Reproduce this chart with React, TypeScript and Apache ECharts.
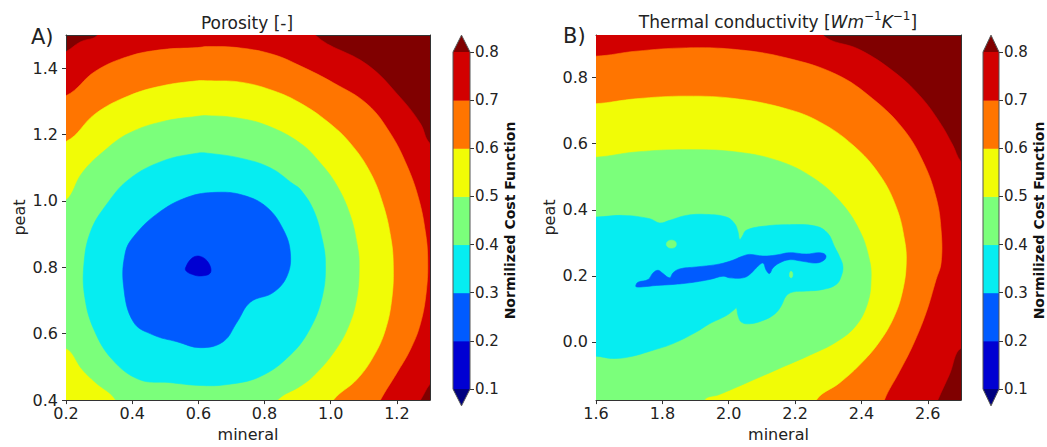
import React, { useEffect, useRef } from 'react';
import * as echarts from 'echarts';

const FONT = 'DejaVu Sans';

// Colour levels of the filled contours (matplotlib "jet", 7 bands + extensions)
const levels = [0.1, 0.2, 0.3, 0.4, 0.5, 0.6, 0.7, 0.8];
const bandColors = ['#0000d2', '#005bff', '#06edf1', '#7bff7b', '#f1fc06', '#ff7500', '#d20000'];
const underColor = '#000080';
const overColor = '#800000';
const colorbarTicks = [0.1, 0.2, 0.3, 0.4, 0.5, 0.6, 0.7, 0.8];

// Panel A axes
const porosityXRange = [0.2, 1.3];
const porosityYRange = [0.4, 1.5];
const porosityXTicks = [0.2, 0.4, 0.6, 0.8, 1.0, 1.2];
const porosityYTicks = [0.4, 0.6, 0.8, 1.0, 1.2, 1.4];

// Panel B axes
const thermalXRange = [1.6, 2.7];
const thermalYRange = [-0.176, 0.929];
const thermalXTicks = [1.6, 1.8, 2.0, 2.2, 2.4, 2.6];
const thermalYTicks = [0.0, 0.2, 0.4, 0.6, 0.8];

// ---- Panel A contour regions (value below level), [mineral, peat] ----
const porosityBelow08 = [[0.30,1.56],[0.295,1.5],[0.243,1.479],[0.2,1.45],[0.15,1.43],[0.1,1.2],[0.1,0.3],[1.2,0.3],[1.271,0.4],[1.299,0.447],[1.35,0.5],[1.4,0.8],[1.35,1.15],[1.299,1.174],[1.271,1.233],[1.21,1.312],[1.11,1.411],[0.953,1.5],[0.95,1.56]];
const porosityBelow07 = [[0.1,1.3],[0.2,1.317],[0.289,1.391],[0.39,1.436],[0.491,1.456],[0.597,1.462],[0.627,1.465],[0.727,1.461],[0.827,1.441],[0.908,1.407],[1.008,1.356],[1.11,1.292],[1.18,1.204],[1.231,1.105],[1.266,1.006],[1.286,0.907],[1.293,0.828],[1.289,0.729],[1.271,0.63],[1.24,0.551],[1.2,0.482],[1.15,0.4],[1.1,0.3],[0.1,0.3]];
const porosityBelow06 = [[0.1,1.17],[0.2,1.179],[0.289,1.263],[0.39,1.317],[0.491,1.347],[0.597,1.362],[0.627,1.362],[0.727,1.358],[0.827,1.332],[0.908,1.295],[0.989,1.24],[1.059,1.174],[1.12,1.085],[1.159,0.987],[1.182,0.887],[1.189,0.809],[1.185,0.709],[1.165,0.611],[1.129,0.531],[1.079,0.462],[1.008,0.4],[0.95,0.3],[0.1,0.3]];
const porosityBelow05 = [[0.15,1.0],[0.2,1.002],[0.249,1.085],[0.319,1.154],[0.39,1.204],[0.491,1.239],[0.597,1.255],[0.627,1.257],[0.718,1.25],[0.808,1.227],[0.908,1.174],[0.968,1.115],[1.019,1.046],[1.059,0.957],[1.08,0.868],[1.086,0.809],[1.079,0.709],[1.053,0.62],[1.008,0.542],[0.947,0.472],[0.908,0.442],[0.839,0.4],[0.82,0.35],[0.35,0.35],[0.35,0.4],[0.289,0.453],[0.249,0.492],[0.2,0.556],[0.15,0.54]];
const porosityBelow04 = [[0.274,0.907],[0.254,0.808],[0.257,0.709],[0.285,0.611],[0.34,0.522],[0.421,0.462],[0.511,0.453],[0.606,0.444],[0.688,0.447],[0.787,0.471],[0.878,0.536],[0.938,0.616],[0.975,0.714],[0.984,0.812],[0.974,0.886],[0.947,0.975],[0.908,1.035],[0.888,1.05],[0.817,1.1],[0.727,1.129],[0.627,1.144],[0.597,1.144],[0.491,1.12],[0.39,1.065],[0.32,0.986]];
const porosityBelow03 = [[0.655,1.026],[0.736,1.017],[0.807,0.981],[0.857,0.913],[0.878,0.843],[0.868,0.774],[0.826,0.724],[0.757,0.695],[0.717,0.635],[0.675,0.576],[0.606,0.558],[0.535,0.576],[0.464,0.596],[0.404,0.635],[0.374,0.744],[0.379,0.843],[0.404,0.892],[0.475,0.961],[0.566,1.011]];
const porosityBelow02 = [[0.561,0.798],[0.581,0.828],[0.606,0.833],[0.631,0.813],[0.636,0.783],[0.606,0.774],[0.581,0.779],[0.564,0.788]];

// ---- Panel B contour regions ----
const thermalBelow08 = [[1.5,1.0],[2.28,1.0],[2.284,0.929],[2.394,0.885],[2.495,0.82],[2.575,0.746],[2.635,0.666],[2.675,0.596],[2.699,0.547],[2.75,0.5],[2.75,-0.05],[2.699,-0.02],[2.665,-0.099],[2.63,-0.176],[2.6,-0.25],[1.5,-0.25]];
const thermalBelow07 = [[1.5,0.87],[1.6,0.865],[1.721,0.88],[1.872,0.89],[2.023,0.885],[2.173,0.86],[2.324,0.81],[2.434,0.736],[2.525,0.646],[2.585,0.547],[2.625,0.437],[2.64,0.338],[2.64,0.239],[2.625,0.189],[2.595,0.089],[2.555,-0.01],[2.515,-0.089],[2.469,-0.176],[2.45,-0.25],[1.5,-0.25]];
const thermalBelow06 = [[1.5,0.72],[1.6,0.721],[1.721,0.736],[1.872,0.744],[2.023,0.736],[2.173,0.706],[2.274,0.666],[2.374,0.596],[2.454,0.507],[2.505,0.408],[2.53,0.308],[2.535,0.239],[2.525,0.159],[2.5,0.08],[2.454,0.0],[2.394,-0.07],[2.334,-0.124],[2.264,-0.176],[2.25,-0.25],[1.5,-0.25]];
const thermalBelow05 = [[1.5,0.56],[1.6,0.559],[1.721,0.575],[1.872,0.582],[2.023,0.575],[2.153,0.547],[2.254,0.497],[2.334,0.427],[2.394,0.338],[2.424,0.249],[2.429,0.189],[2.419,0.119],[2.384,0.05],[2.324,0.0],[2.244,-0.04],[2.153,-0.08],[2.053,-0.124],[1.972,-0.159],[1.927,-0.176],[1.92,-0.25],[1.5,-0.25]];
const thermalBelow04 = [[1.5,0.38],[1.6,0.378],[1.681,0.383],[1.762,0.373],[1.792,0.36],[1.822,0.368],[1.872,0.383],[1.932,0.386],[1.993,0.378],[2.018,0.358],[2.028,0.333],[2.033,0.31],[2.041,0.32],[2.053,0.338],[2.103,0.35],[2.183,0.355],[2.264,0.35],[2.299,0.328],[2.319,0.288],[2.334,0.258],[2.344,0.229],[2.339,0.199],[2.324,0.174],[2.284,0.159],[2.234,0.154],[2.193,0.151],[2.173,0.139],[2.158,0.109],[2.138,0.084],[2.103,0.065],[2.063,0.055],[2.038,0.06],[2.028,0.08],[2.023,0.104],[2.018,0.099],[1.993,0.08],[1.942,0.055],[1.902,0.03],[1.832,-0.005],[1.772,-0.025],[1.701,-0.045],[1.651,-0.05],[1.6,-0.043],[1.5,-0.04]];
const thermalIsland1 = [[1.812,0.296],[1.817,0.305],[1.827,0.308],[1.838,0.305],[1.842,0.296],[1.838,0.287],[1.827,0.284],[1.817,0.287]];
const thermalIsland2 = [[2.183,0.204],[2.185,0.212],[2.188,0.214],[2.192,0.21],[2.193,0.202],[2.191,0.196],[2.188,0.194],[2.184,0.197]];
const thermalBelow03 = [[1.721,0.174],[1.727,0.181],[1.757,0.189],[1.772,0.209],[1.787,0.217],[1.802,0.207],[1.822,0.194],[1.832,0.209],[1.852,0.221],[1.902,0.227],[1.962,0.234],[2.003,0.244],[2.043,0.26],[2.063,0.265],[2.103,0.26],[2.143,0.263],[2.183,0.27],[2.234,0.266],[2.274,0.27],[2.292,0.263],[2.289,0.249],[2.264,0.239],[2.223,0.244],[2.183,0.249],[2.153,0.239],[2.133,0.224],[2.123,0.207],[2.113,0.217],[2.103,0.239],[2.083,0.224],[2.063,0.204],[2.043,0.194],[2.003,0.194],[1.983,0.199],[1.942,0.189],[1.882,0.179],[1.832,0.174],[1.782,0.171],[1.742,0.167],[1.721,0.167]];

// band index = colour of region (0: 0.1-0.2 ... 6: 0.7-0.8)
const porosityLayers = [
  { band: 6, pts: porosityBelow08 },
  { band: 5, pts: porosityBelow07 },
  { band: 4, pts: porosityBelow06 },
  { band: 3, pts: porosityBelow05 },
  { band: 2, pts: porosityBelow04 },
  { band: 1, pts: porosityBelow03 },
  { band: 0, pts: porosityBelow02 },
];
const thermalLayers = [
  { band: 6, pts: thermalBelow08 },
  { band: 5, pts: thermalBelow07 },
  { band: 4, pts: thermalBelow06 },
  { band: 3, pts: thermalBelow05 },
  { band: 2, pts: thermalBelow04 },
  { band: 3, pts: thermalIsland1 },
  { band: 3, pts: thermalIsland2 },
  { band: 1, pts: thermalBelow03 },
];

const EXTEND_FRAC = 0.05;
const SMOOTH = 0.4;
const TXT = '#222';
const AXC = '#333';

function layerRender(layers: any[]) {
  return (params: any, api: any) => {
    const layer = layers[params.dataIndex];
    const points = layer.pts.map((p: number[]) => api.coord(p));
    const c = bandColors[layer.band];
    return { type: 'polygon', shape: { points, smooth: SMOOTH }, style: { fill: c, stroke: c, lineWidth: 0.6 } };
  };
}

const cbItems = ['b0', 'b1', 'b2', 'b3', 'b4', 'b5', 'b6', 'under', 'over', 'outline'];
function colorbarRender(params: any, api: any) {
  const key = cbItems[params.dataIndex];
  const lo = levels[0];
  const hi = levels[levels.length - 1];
  const ext = EXTEND_FRAC * (hi - lo);
  if (key[0] === 'b') {
    const i = Number(key.slice(1));
    const p0 = api.coord([0, levels[i]]);
    const p1 = api.coord([1, levels[i + 1]]);
    return {
      type: 'rect',
      shape: { x: p0[0], y: p1[1], width: p1[0] - p0[0], height: p0[1] - p1[1] + 0.5 },
      style: { fill: bandColors[i] },
    };
  }
  if (key === 'under') {
    const pts = [api.coord([0, lo]), api.coord([1, lo]), api.coord([0.5, lo - ext])];
    return { type: 'polygon', shape: { points: pts }, style: { fill: underColor } };
  }
  if (key === 'over') {
    const pts = [api.coord([0, hi]), api.coord([1, hi]), api.coord([0.5, hi + ext])];
    return { type: 'polygon', shape: { points: pts }, style: { fill: overColor } };
  }
  const pts = [
    api.coord([0, lo]), api.coord([0.5, lo - ext]), api.coord([1, lo]),
    api.coord([1, hi]), api.coord([0.5, hi + ext]), api.coord([0, hi]),
  ];
  return { type: 'polygon', shape: { points: pts }, style: { fill: 'none', stroke: '#555', lineWidth: 1 } };
}

const fmt1 = (v: number) => Number(v).toFixed(1);
const labelStyle = { fontFamily: FONT, fontSize: 16, color: TXT };

function mainXAxis(grid: number, range: number[], ticks: number[]) {
  return {
    gridIndex: grid, type: 'value', min: range[0], max: range[1], position: 'bottom',
    axisLine: { show: true, onZero: false, lineStyle: { color: AXC, width: 1 } },
    axisTick: { show: true, inside: false, length: 4, customValues: ticks, lineStyle: { color: AXC } },
    axisLabel: { show: true, customValues: ticks, formatter: fmt1, margin: 5, ...labelStyle },
    splitLine: { show: false },
    name: 'mineral', nameLocation: 'middle', nameGap: 25, nameTextStyle: { ...labelStyle },
  };
}
function mainYAxis(grid: number, range: number[], ticks: number[]) {
  return {
    gridIndex: grid, type: 'value', min: range[0], max: range[1], position: 'left',
    axisLine: { show: true, onZero: false, lineStyle: { color: AXC, width: 1 } },
    axisTick: { show: true, inside: false, length: 4, customValues: ticks, lineStyle: { color: AXC } },
    axisLabel: { show: true, customValues: ticks, formatter: fmt1, margin: 8, ...labelStyle },
    splitLine: { show: false },
    name: 'peat', nameLocation: 'middle', nameGap: 39, nameRotate: 90, nameTextStyle: { ...labelStyle },
  };
}
function frameAxis(grid: number, range: number[], position: string) {
  return {
    gridIndex: grid, type: 'value', min: range[0], max: range[1], position,
    axisLine: { show: true, onZero: false, lineStyle: { color: AXC, width: 1 } },
    axisTick: { show: false }, axisLabel: { show: false }, splitLine: { show: false },
  };
}
function cbXAxis(grid: number) {
  return { gridIndex: grid, type: 'value', min: 0, max: 1, show: false };
}
function cbYAxis(grid: number) {
  return {
    gridIndex: grid, type: 'value', min: levels[0], max: levels[levels.length - 1], position: 'right',
    axisLine: { show: false, onZero: false },
    axisTick: { show: true, inside: false, length: 4, customValues: colorbarTicks, lineStyle: { color: AXC } },
    axisLabel: { show: true, customValues: colorbarTicks, formatter: fmt1, margin: 5, fontFamily: FONT, fontSize: 15, color: TXT },
    splitLine: { show: false },
    name: 'Normilized Cost Function', nameLocation: 'middle', nameGap: 33, nameRotate: 90,
    nameTextStyle: { fontFamily: FONT, fontSize: 14, fontWeight: 'bold', color: '#111' },
  };
}

function textEl(x: number, y: number, text: string, size: number, extra: any = {}) {
  return {
    type: 'text', x, y,
    style: {
      text, fontFamily: FONT, fontSize: size, fill: TXT,
      align: extra.align || 'center', textAlign: extra.align || 'center',
      verticalAlign: 'middle', textVerticalAlign: 'middle', ...extra.style,
    },
  };
}

export default function App() {
  const ref = useRef<HTMLDivElement>(null);
  useEffect(() => {
    if (!ref.current) return;
    const chart = echarts.init(ref.current, undefined, { renderer: 'svg' });
    const option: any = {
      animation: false,
      backgroundColor: '#ffffff',
      textStyle: { fontFamily: FONT },
      grid: [
        { left: 66, top: 35, width: 364, height: 371, show: true, backgroundColor: overColor, borderWidth: 0 },
        { left: 453, top: 52, width: 17, height: 337, show: false },
        { left: 596, top: 35, width: 365, height: 371, show: true, backgroundColor: overColor, borderWidth: 0 },
        { left: 983, top: 52, width: 18, height: 337, show: false },
      ],
      xAxis: [
        mainXAxis(0, porosityXRange, porosityXTicks),
        frameAxis(0, porosityXRange, 'top'),
        cbXAxis(1),
        mainXAxis(2, thermalXRange, thermalXTicks),
        frameAxis(2, thermalXRange, 'top'),
        cbXAxis(3),
      ],
      yAxis: [
        mainYAxis(0, porosityYRange, porosityYTicks),
        frameAxis(0, porosityYRange, 'right'),
        cbYAxis(1),
        mainYAxis(2, thermalYRange, thermalYTicks),
        frameAxis(2, thermalYRange, 'right'),
        cbYAxis(3),
      ],
      series: [
        { type: 'custom', name: 'Porosity', xAxisIndex: 0, yAxisIndex: 0, clip: true, silent: true,
          renderItem: layerRender(porosityLayers), data: porosityLayers.map((_, i) => i) },
        { type: 'custom', name: 'cbA', xAxisIndex: 2, yAxisIndex: 2, silent: true,
          renderItem: colorbarRender, data: cbItems.map((_, i) => i) },
        { type: 'custom', name: 'Thermal', xAxisIndex: 3, yAxisIndex: 3, clip: true, silent: true,
          renderItem: layerRender(thermalLayers), data: thermalLayers.map((_, i) => i) },
        { type: 'custom', name: 'cbB', xAxisIndex: 5, yAxisIndex: 5, silent: true,
          renderItem: colorbarRender, data: cbItems.map((_, i) => i) },
      ],
      graphic: [
        textEl(247, 23, 'Porosity [-]', 17),
        {
          type: 'text', x: 778, y: 22,
          style: {
            text: 'Thermal conductivity [{i|Wm}{s|−1}{i|K}{s|−1}]',
            fontFamily: FONT, fontSize: 17, fill: TXT, lineHeight: 24,
            align: 'center', textAlign: 'center', verticalAlign: 'middle', textVerticalAlign: 'middle',
            rich: {
              i: { fontStyle: 'italic', fontFamily: FONT, fontSize: 17, fill: TXT, lineHeight: 24 },
              s: { fontFamily: FONT, fontSize: 12, fill: TXT, lineHeight: 14, verticalAlign: 'top' },
            },
          },
        },
        textEl(31, 37, 'A)', 21, { align: 'left' }),
        textEl(563, 36, 'B)', 21, { align: 'left' }),
      ],
    };
    chart.setOption(option);
    return () => chart.dispose();
  }, []);
  return <div ref={ref} style={{ position: 'absolute', left: 0, top: 0, width: 1047, height: 447 }} />;
}
